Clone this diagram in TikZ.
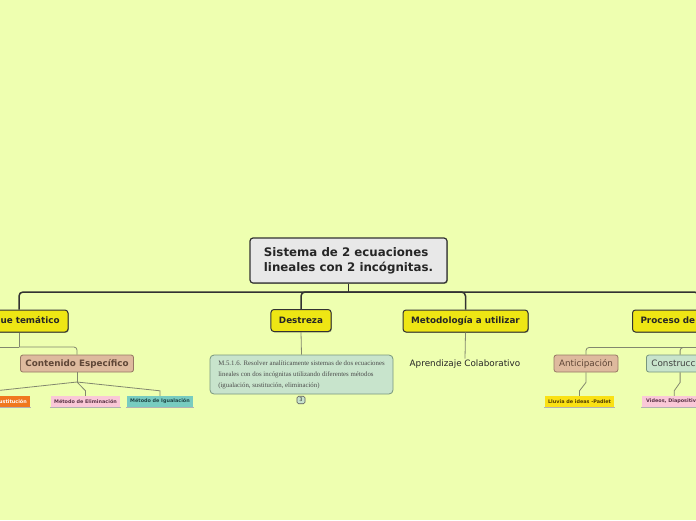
\documentclass[tikz,border=0pt]{standalone}
\usepackage{fontspec}
\setsansfont{DejaVu Sans}
\setmainfont{Liberation Serif}
\usetikzlibrary{shadows}
\definecolor{bg}{RGB}{238,255,176}
\definecolor{yel}{RGB}{238,230,20}
\definecolor{rootfill}{RGB}{232,232,232}
\definecolor{tanf}{RGB}{222,186,158}
\definecolor{tanline}{RGB}{150,120,100}
\definecolor{tantext}{RGB}{95,70,55}
\definecolor{mint}{RGB}{200,228,204}
\definecolor{mintline}{RGB}{120,150,125}
\definecolor{orng}{RGB}{240,120,30}
\definecolor{pnk}{RGB}{250,200,215}
\definecolor{tealf}{RGB}{120,204,192}
\definecolor{lyel}{RGB}{250,225,20}
\definecolor{dark}{RGB}{50,50,50}
\definecolor{subl}{RGB}{130,135,110}
\definecolor{pinktext}{RGB}{90,50,70}
\definecolor{tealtext}{RGB}{30,70,70}
\definecolor{yeltext}{RGB}{80,60,0}
\tikzset{
  shad/.style={drop shadow={shadow xshift=0.8pt, shadow yshift=-0.8pt, opacity=0.35, fill=black}},
  rootbox/.style={draw=dark, line width=1.2pt, fill=rootfill, rounded corners=3pt,
    minimum width=197pt, minimum height=45pt, align=left, inner sep=0pt,
    font=\sffamily\bfseries\fontsize{11.8}{15}\selectfont, text=black!85, shad},
  branch/.style={draw=dark, line width=1pt, fill=yel, rounded corners=3pt,
    minimum height=22pt, inner sep=0pt, inner xsep=8pt,
    font=\sffamily\bfseries\fontsize{8.8}{10}\selectfont, text=black!85, shad},
  tanbox/.style={draw=tanline, line width=0.8pt, fill=tanf, rounded corners=2.5pt,
    minimum height=17pt, inner sep=0pt, inner xsep=5pt, text=tantext},
  mintbox/.style={draw=mintline, line width=0.8pt, fill=mint, rounded corners=2.5pt,
    minimum height=17pt, inner sep=0pt, inner xsep=5pt, text=black!75},
  leaf/.style={inner sep=0pt, inner xsep=3pt, minimum height=11pt,
    font=\sffamily\bfseries\fontsize{4.9}{6}\selectfont},
  leafline/.style={draw=gray!60, line width=0.6pt},
  mainline/.style={draw=dark, line width=1.5pt},
  subline/.style={draw=subl, line width=0.8pt},
}
\begin{document}
\begin{tikzpicture}[x=1pt,y=-1pt]
\useasboundingbox (0,0) rectangle (696,520);
\fill[bg] (0,0) rectangle (696,520);
\begin{scope}
\clip (0,0) rectangle (696,520);
% nodes
\node[rootbox] (root) at (348.5,260.5) {Sistema de 2 ecuaciones\\lineales con 2 incógnitas.};
\node[branch, minimum width=98pt] (bloque) at (19,321) {Bloque temático};
\node[branch, minimum width=60pt] (destreza) at (301,320.5) {Destreza};
\node[branch, minimum width=125pt] (metod) at (465.5,321) {Metodología a utilizar};
\node[branch, anchor=west] (proceso) at (632,321) {Proceso de aprendizaje};

\node[tanbox, minimum width=112pt, font=\sffamily\bfseries\fontsize{8.8}{10}\selectfont] (contenido) at (77,363.5) {Contenido Específico};

\node[leaf, fill=orng, text=white, anchor=east, minimum width=68pt] (sust) at (30,401.5) {Método de Sustitución};
\node[leaf, fill=pnk, text=pinktext, minimum width=69pt] (elim) at (85.5,401.5) {Método de Eliminación};
\node[leaf, fill=tealf, text=tealtext, minimum width=66pt] (igual) at (160,401.5) {Método de Igualación};

\node[mintbox, minimum width=183pt, minimum height=39pt, align=left, rounded corners=4pt,
  font=\rmfamily\fontsize{6.8}{11}\selectfont, text=black!70] (dtext) at (301.5,374.5)
  {M.5.1.6. Resolver analíticamente sistemas de dos ecuaciones\\lineales con dos incógnitas utilizando diferentes métodos\\(igualación, sustitución, eliminación)};
\node[draw=dark!80, fill=mint, rounded corners=1.5pt, inner sep=0pt, minimum width=8pt, minimum height=7.5pt,
  line width=0.6pt, font=\sffamily\fontsize{5}{5}\selectfont, text=black!80] (badge) at (301,400) {3};

\node[inner sep=1pt, font=\sffamily\fontsize{8.8}{10}\selectfont, text=black!85] (aprend) at (465,364) {Aprendizaje Colaborativo};

\node[tanbox, minimum width=62pt, font=\sffamily\fontsize{8.8}{10}\selectfont] (antic) at (586,363.5) {Anticipación};
\node[mintbox, anchor=west, font=\sffamily\fontsize{8.8}{10}\selectfont] (constr) at (646,363.5) {Construcción};

\node[leaf, fill=lyel, text=yeltext, minimum width=69pt] (lluvia) at (579.5,401.5) {Lluvia de ideas -Padlet};
\node[leaf, fill=pnk, text=pinktext, anchor=west, minimum width=64pt] (videos) at (642,401.5) {Videos, Diapositivas};

% leaf underlines
\foreach \n in {sust,elim,igual,lluvia,videos}
  \draw[leafline] ([xshift=-1pt]\n.south west) -- ([xshift=1pt]\n.south east);

% main connectors
\coordinate (bar) at (348.5,292);
\draw[mainline] (root.south) -- (bar);
\draw[mainline, rounded corners=4pt] (bar) -| (bloque.north);
\draw[mainline, rounded corners=4pt] (bar) -| (destreza.north);
\draw[mainline, rounded corners=4pt] (bar) -| (metod.north);
\draw[mainline, rounded corners=4pt] (bar) -| (proceso.north);

% Bloque tematico sub
\coordinate (bj) at (19,347);
\coordinate (bleft) at (-40,347);
\draw[subline] (bloque.south) -- (bj);
\draw[subline, rounded corners=3pt] (bj) -| (contenido.north);
\draw[subline] (bj) -- (bleft);

\coordinate (cj) at (77,382);
\draw[subline] (contenido.south) -- (cj);
\draw[subline] (cj) -- ([yshift=5pt]sust.north) -- (sust.north);
\draw[subline] (cj) -- ([yshift=5pt]elim.north) -- (elim.north);
\draw[subline] (cj) -- ([yshift=5pt]igual.north) -- (igual.north);

% Destreza sub
\draw[subline] (destreza.south) -- (dtext.north);

% Metodologia sub
\draw[subline] (metod.south) -- (aprend.north);

% Proceso sub
\coordinate (pj) at ([yshift=-15pt]proceso.south);
\draw[subline] (proceso.south) -- (pj);
\draw[subline, rounded corners=3pt] (pj) -| (antic.north);
\draw[subline, rounded corners=3pt] (pj) -| (constr.north);
\draw[subline] (antic.south) -- ([yshift=-10pt]antic.south) -- ([yshift=5pt]lluvia.north) -- (lluvia.north);
\draw[subline] (constr.south) -- ([yshift=-10pt]constr.south) -- ([yshift=5pt]videos.north) -- (videos.north);
\end{scope}
\end{tikzpicture}
\end{document}
